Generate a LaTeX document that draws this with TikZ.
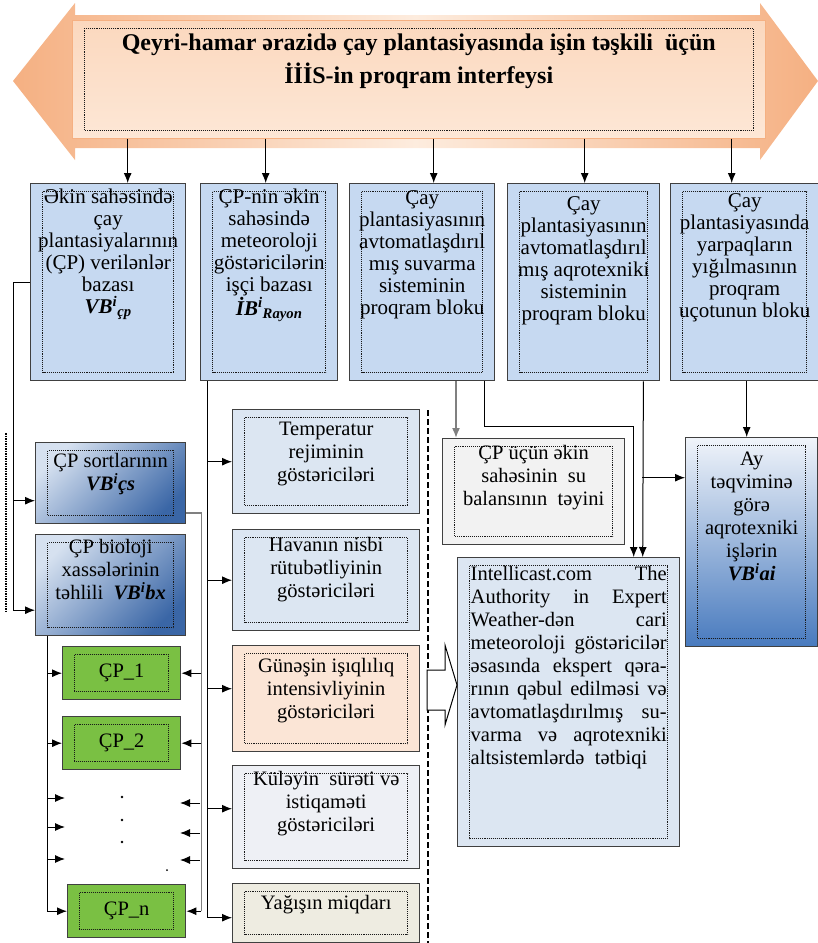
\documentclass[tikz,border=0pt]{standalone}
\usepackage{fontspec}
\setmainfont{Liberation Serif}
\usetikzlibrary{arrows.meta}

\definecolor{orng}{RGB}{245,176,130}
\definecolor{peach}{RGB}{253,236,222}
\definecolor{paneltop}{RGB}{251,216,190}
\definecolor{panelbot}{RGB}{253,231,214}
\definecolor{topblue}{RGB}{198,217,241}
\definecolor{paleblue}{RGB}{220,230,242}
\definecolor{sunpeach}{RGB}{251,229,214}
\definecolor{windgray}{RGB}{238,240,245}
\definecolor{rainbeige}{RGB}{238,236,225}
\definecolor{balgray}{RGB}{242,242,242}
\definecolor{cpgreen}{RGB}{122,192,67}
\definecolor{lightblue}{RGB}{214,225,240}
\definecolor{darkblue}{RGB}{58,102,166}
\definecolor{aytop}{RGB}{240,244,250}
\definecolor{aybot}{RGB}{72,122,190}

\newcommand{\cell}[4]{\parbox[c][#2][t]{#1}{\centering\rule{0pt}{#3}#4\par}}
\newcommand{\jl}[1]{\makebox[196pt][s]{#1}}
\newcommand{\vbi}[1]{\textbf{\textit{#1}}}

\tikzset{
    dotin/.style={path picture={\draw[line width=1.1pt, densely dotted, black!90]
        ([shift={(12pt,-8pt)}]path picture bounding box.north west) rectangle
        ([shift={(-12pt,8pt)}]path picture bounding box.south east);}},
    blk/.style={draw=black!75, line width=1.4pt, inner sep=0pt, anchor=north west, dotin},
    topbox/.style={blk, fill=topblue, font={\fontsize{21}{22}\selectfont}},
    pale/.style={blk, font={\fontsize{20.5}{23}\selectfont}},
    deep/.style={blk, top color=lightblue, bottom color=darkblue, shading angle=45,
        font={\fontsize{20.5}{23}\selectfont}},
    cpbox/.style={blk, fill=cpgreen, minimum width=118pt, minimum height=53pt,
        font={\fontsize{20.5}{23}\selectfont}},
}

\begin{document}
\begin{tikzpicture}[x=1pt, y=-1pt, >={Latex[length=10pt,width=8pt]}, line width=1pt]
    \useasboundingbox (0,0) rectangle (818,943);

    % banner
    \shade[left color=orng, right color=orng, middle color=peach]
        (13,81) -- (75,3) -- (75,15) -- (760,15) -- (760,3) -- (818,81)
        -- (760,160) -- (760,148) -- (75,148) -- (75,160) -- cycle;
    \node[blk, draw=orng, line width=0.6pt, top color=paneltop, bottom color=panelbot,
        font={\fontsize{24}{33}\selectfont\bfseries}] (banner) at (72,20)
        {\cell{693pt}{118pt}{30pt}{Qeyri-hamar ərazidə çay plantasiyasında işin təşkili\ \ üçün\\ İİİS-in proqram interfeysi}};

    % upper row
    \node[topbox] (b1) at (30,183) {\cell{155pt}{197pt}{20pt}{Əkin sahəsində\\ çay\\ plantasiyalarının\\ (ÇP) verilənlər\\ bazası\\ \vbi{VB\textsuperscript{i}\textsubscript{çp}}}};
    \node[topbox] (b2) at (200,183) {\cell{137pt}{197pt}{20pt}{ÇP-nin əkin\\ sahəsində\\ meteoroloji\\ göstəricilərin\\ işçi bazası\\ \vbi{İB\textsuperscript{i}\textsubscript{Rayon}}}};
    \node[topbox] (b3) at (349,183) {\cell{145pt}{197pt}{21pt}{Çay\\ plantasiyasının\\ avtomatlaşdırıl\\ mış suvarma\\ sisteminin\\ proqram bloku}};
    \node[topbox] (b4) at (507,183) {\cell{152pt}{197pt}{27pt}{Çay\\ plantasiyasının\\ avtomatlaşdırıl\\ mış aqrotexniki\\ sisteminin\\ proqram bloku}};
    \node[topbox] (b5) at (670,183) {\cell{148pt}{197pt}{24pt}{Çay\\ plantasiyasında\\ yarpaqların\\ yığılmasının\\ proqram\\ uçotunun bloku}};

    \foreach \b/\dx in {b1/19.5, b2/-3.5, b3/11.5, b4/1, b5/-13}
        \draw[->] ([xshift=\dx pt]\b.north |- banner.south) -- ([xshift=\dx pt]\b.north);

    % left column
    \node[deep] (sort) at (35,442) {\cell{150pt}{81pt}{25pt}{ÇP sortlarının\\ \vbi{VB\textsuperscript{i}çs}}};
    \node[deep] (bio) at (35,534) {\cell{150pt}{101pt}{19pt}{ÇP bioloji\\ xassələrinin\\ təhlili\ \ \vbi{VB\textsuperscript{i}bx}}};

    \node[cpbox] (cp1) at (62,646) {ÇP\_1};
    \node[cpbox] (cp2) at (62,716) {ÇP\_2};
    \node[cpbox] (cpn) at (67,884) {ÇP\_n};

    \fill (122,797) circle (1.3pt) (122,820) circle (1.3pt) (122,842) circle (1.3pt) (167,870) circle (1pt);

    % indicators
    \node[pale, fill=paleblue] (temp) at (232,409) {\cell{187pt}{104pt}{26pt}{Temperatur\\ rejiminin\\ göstəriciləri}};
    \node[pale, fill=paleblue] (hum) at (232,529) {\cell{187pt}{101pt}{22pt}{Havanın nisbi\\ rütubətliyinin\\ göstəriciləri}};
    \node[pale, fill=sunpeach] (sun) at (232,645) {\cell{187pt}{106pt}{27pt}{Günəşin işıqlılıq\\ intensivliyinin\\ göstəriciləri}};
    \node[pale, fill=windgray] (wind) at (232,765) {\cell{187pt}{103pt}{20pt}{Küləyin\ \ sürəti və\\ istiqaməti\\ göstəriciləri}};
    \node[pale, fill=rainbeige] (rain) at (232,883) {\cell{187pt}{59pt}{26pt}{Yağışın miqdarı}};

    % right part
    \node[pale, fill=balgray] (bal) at (442,438) {\cell{182pt}{106pt}{21pt}{ÇP üçün əkin\\ sahəsinin\ \ su\\ balansının\ \ təyini}};
    \node[pale, fill=paleblue] (info) at (457,557) {\cell{222pt}{289pt}{23pt}{\jl{Intellicast.com The}\\
        \jl{Authority in Expert}\\ \jl{Weather-dən cari}\\ \jl{meteoroloji göstəricilər}\\
        \jl{əsasında ekspert qəra-}\\ \jl{rının qəbul edilməsi və}\\ \jl{avtomatlaşdırılmış su-}\\
        \jl{varma və aqrotexniki}\\ \makebox[196pt][l]{altsistemlərdə\ \ tətbiqi}}};
    \node[deep, top color=aytop, bottom color=aybot] (ay) at (685,437)
        {\cell{132pt}{209pt}{28pt}{Ay\\ təqviminə\\ görə\\ aqrotexniki\\ işlərin\\ \vbi{VB\textsuperscript{i}ai}}};

    \draw[densely dotted, line width=1.5pt] (6,433) -- (6,612);
    \draw[dash pattern=on 6pt off 3pt, line width=1.3pt] (428,410) -- (428,943);
    \draw[fill=white, line width=1pt] (427,670) -- (445,670) -- (445,645) -- (457,685)
        -- (445,725) -- (445,710) -- (427,710) -- cycle;

    % connectors, left
    \draw[->] (b1.west) -- ++(-17,0) |- ([yshift=-25pt]bio.west);
    \draw[->] ([xshift=-22pt,yshift=-17.5pt]sort.west) -- ([yshift=-17.5pt]sort.west);
    \draw[->] ([xshift=12pt]bio.south west) |- (cpn.west);
    \draw[->] ([xshift=-15pt]cp1.west) -- (cp1.west);
    \draw[->] ([xshift=-15pt]cp2.west) -- (cp2.west);
    \draw[gray, line width=1.5pt] ([yshift=-30pt]sort.east) -| ([xshift=15pt]cpn.east);
    \draw[->] ([xshift=20pt]cp1.east) -- (cp1.east);
    \draw[->] ([xshift=20pt]cp2.east) -- (cp2.east);
    \draw[->] ([xshift=15pt]cpn.east) -- (cpn.east);
    \foreach \i/\yl/\yr in {1/798/803, 2/827/833, 3/859/860} {
        \coordinate (dl\i) at (65,\yl);
        \coordinate (dr\i) at (180,\yr);
        \draw[->] ([xshift=-18pt]dl\i) -- (dl\i);
        \draw[->] ([xshift=20pt]dr\i) -- (dr\i);
    }

    \draw[->] ([xshift=7pt]b2.south west) |- ([yshift=-4.5pt]rain.west);
    \foreach \n/\dy in {temp/0, hum/0, sun/10, wind/8.5}
        \draw[->] ([xshift=-25pt,yshift=\dy pt]\n.west) -- ([yshift=\dy pt]\n.west);

    % connectors, right
    \draw[->, gray, line width=1.6pt] ([xshift=14pt]bal.north west |- b3.south) -- ([xshift=14pt]bal.north west);
    \draw[->] ([xshift=-11pt]b3.south east) -- ++(0,45) -| ([xshift=65pt]info.north);
    \draw[->] ([xshift=-17pt]b4.south east) -- ([xshift=74pt]info.north);
    \draw[->] ([xshift=-43pt,yshift=64.5pt]ay.west) -- ([yshift=64.5pt]ay.west);
    \draw[->] ([xshift=-5pt]ay.north |- b5.south) -- ([xshift=-5pt]ay.north);
\end{tikzpicture}
\end{document}
